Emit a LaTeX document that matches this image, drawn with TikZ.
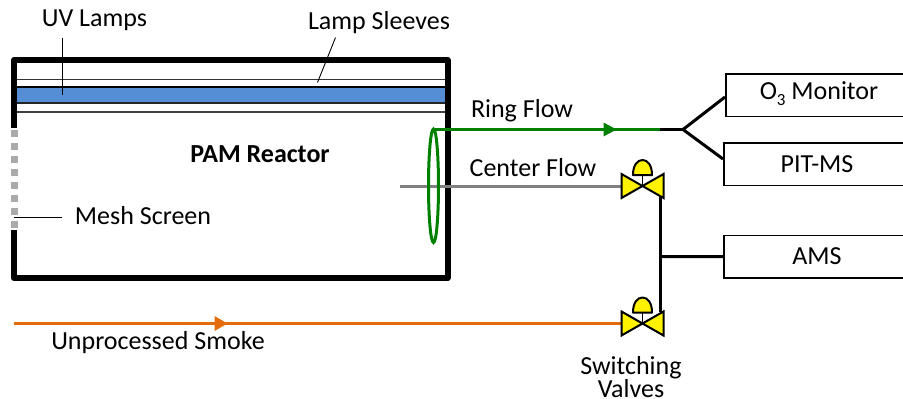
\documentclass[tikz,border=0pt]{standalone}
\usepackage{fontspec}
\setmainfont{Carlito}
\definecolor{lampblue}{RGB}{85,142,213}
\definecolor{ringgreen}{RGB}{0,128,0}
\definecolor{smokeorange}{RGB}{228,108,10}
\definecolor{flowgray}{RGB}{128,128,128}
\definecolor{meshgray}{RGB}{170,170,170}
\tikzset{
  lbl/.style={inner sep=0pt,font=\fontsize{26pt}{21pt}\selectfont,align=center},
  instr/.style={draw=black,line width=1.6pt,inner sep=0pt},
  wall/.style={line width=6pt,line cap=butt,line join=round},
  leader/.style={line width=0.9pt},
  pipe/.style={line width=3pt},
  valvebody/.style={draw=black,fill=yellow,line width=2pt,line join=miter},
}
\begin{document}
\begin{tikzpicture}[x=1pt,y=-1pt]
\useasboundingbox (0,0) rectangle (903,399);
\clip (0,0) rectangle (903,399);
% reactor interior lamp
\fill[lampblue] (17,87) rectangle (445,103);
\draw[line width=1pt,black!80] (17,79) -- (445,79);
\draw[line width=1.2pt] (17,87) -- (445,87);
\draw[line width=1.6pt,black!85] (17,103) -- (445,103);
\draw[line width=1.2pt,black!75] (17,112) -- (445,112);
% mesh
\foreach \y in {133.3,146.3,159.3,172.4,185.5,198.6,211.6,224.6}
  \fill[meshgray] (11.2,\y-3.2) rectangle (17.6,\y+3.2);
% walls
\draw[wall] (14,128) -- (14,60) -- (447.5,60) -- (447.5,278) -- (14,278) -- (14,230);
% labels and leaders
\coordinate (uvtip) at (62,95);
\coordinate (sltip) at (317.5,82.5);
\coordinate (mstip) at (14,217.5);
\node[lbl] (uv) at (94.5,20) {UV Lamps};
\node[lbl] (ls) at (379,23) {Lamp Sleeves};
\node[lbl] (ms) at (143,216) {Mesh Screen};
\node[lbl,font=\fontsize{26pt}{21pt}\selectfont\bfseries] (pam) at (260,154) {PAM Reactor};
\coordinate (uvs) at (62,37.5);
\coordinate (lss) at (335.5,37.5);
\coordinate (mss) at (62,217.5);
\draw[leader] (uvs) -- (uvtip);
\draw[leader] (lss) -- (sltip);
\draw[leader] (mss) -- (mstip);
% instruments
\node[instr,minimum width=190pt,minimum height=42.5pt,anchor=north west] (o3) at (725,73) {};
\node[instr,minimum width=190pt,minimum height=42.5pt,anchor=north west] (pit) at (723,142) {};
\node[instr,minimum width=190pt,minimum height=42.5pt,anchor=north west] (ams) at (723,234.5) {};
\node[lbl] (o3t) at (819,94) {O\raisebox{-6pt}{\fontsize{17pt}{17pt}\selectfont 3} Monitor};
\node[lbl] (pitt) at (817,164) {PIT-MS};
\node[lbl] (amst) at (817,256) {AMS};
% valve positions
\coordinate (v1) at (642.5,186);
\coordinate (v2) at (642.5,323.5);
% flows
\coordinate (ringstart) at (433.5,129.5);
\coordinate (split) at (683,129.5);
\coordinate (greenend) at (660,129.5);
\coordinate (grayin) at (400,186);
\coordinate (orangein) at (14,323.5);
\draw[pipe,ringgreen] (ringstart) -- (greenend);
\draw[pipe,line join=miter] (greenend) -- (split);
\draw[pipe] (split) -- (725,97);
\draw[pipe] (split) -- (723,159);
\draw[pipe,flowgray] (grayin) -- (621,186);
\draw[pipe,smokeorange] (orangein) -- (621,323.5);
\draw[ringgreen,line width=3pt] (433.5,185.75) ellipse (5 and 56.75);
\draw[pipe] (660,197) -- (660,312);
\draw[pipe] (660,256.5) -- (ams.west);
% arrowheads
\fill[ringgreen] (616.5,129.5) -- (603.5,122.5) -- (603.5,136.5) -- cycle;
\fill[smokeorange] (227.5,323.5) -- (214.5,316) -- (214.5,331) -- cycle;
% valves
\foreach \v in {v1,v2}{
  \draw[line width=1.5pt] (\v) -- ++(0,-12);
  \draw[valvebody,line join=round] ([shift={(-9.5,-11)}]\v) .. controls ([shift={(-9.5,-21)}]\v) and ([shift={(-5,-26)}]\v) .. ([shift={(0,-26)}]\v) .. controls ([shift={(5,-26)}]\v) and ([shift={(9.5,-21)}]\v) .. ([shift={(9.5,-11)}]\v) -- cycle;
  \draw[valvebody] (\v) -- ++(-21,-12) -- ++(0,24) -- cycle;
  \draw[valvebody] (\v) -- ++(21,-12) -- ++(0,24) -- cycle;
}
% text
\node[lbl] (ring) at (522,111) {Ring Flow};
\node[lbl] (cent) at (533,168) {Center Flow};
\node[lbl] (smoke) at (158,343) {Unprocessed Smoke};
\node[lbl] (sw) at (631,377) {Switching\\Valves};
\end{tikzpicture}
\end{document}
